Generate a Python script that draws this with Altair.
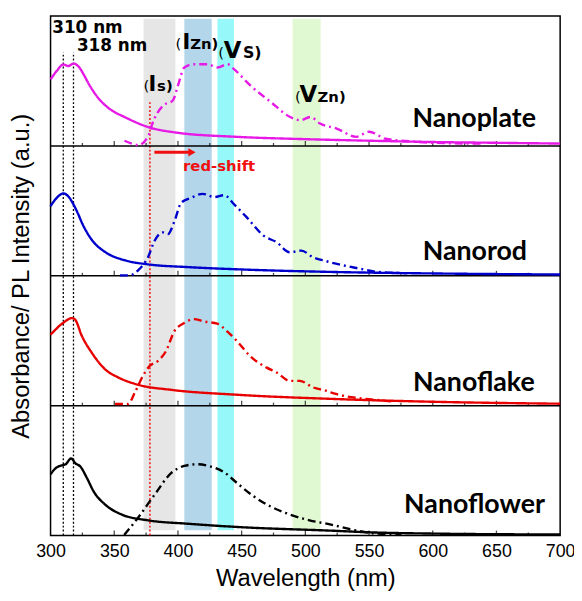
import altair as alt
import pandas as pd

# ---------------- data ----------------
panels = ["Nanoflower", "Nanoflake", "Nanorod", "Nanoplate"]  # bottom -> top
panel_colors = ["#000000", "#E80000", "#0000CD", "#E619E6"]

plate_abs_wl = [300, 305, 310, 314, 318, 322, 326, 330, 338, 348, 358, 376, 400, 446, 500, 550, 600, 650, 700]
plate_abs_v = [0.512, 0.579, 0.627, 0.615, 0.634, 0.611, 0.55, 0.477, 0.362, 0.274, 0.223, 0.147, 0.101, 0.07, 0.052, 0.04, 0.03, 0.024, 0.018]
plate_pl_wl = [358, 364, 369, 377, 379.5, 388.5, 396, 400, 405, 412, 423, 431, 439, 444, 457, 473, 488, 496, 504, 511.5, 524.5, 540, 550, 563, 587, 610, 640]
plate_pl_v = [0.04, 0.017, 0.006, 0.083, 0.16, 0.312, 0.35, 0.464, 0.604, 0.629, 0.629, 0.604, 0.629, 0.591, 0.464, 0.337, 0.223, 0.198, 0.223, 0.172, 0.134, 0.07, 0.109, 0.055, 0.032, 0.021, 0.018]

rod_abs_wl = [300, 304.5, 310, 314.4, 317.3, 321.2, 325.1, 332.9, 343.2, 358.8, 376.5, 407.6, 446.4, 524, 600, 700]
rod_abs_v = [0.537, 0.596, 0.634, 0.606, 0.562, 0.486, 0.398, 0.27, 0.181, 0.118, 0.088, 0.067, 0.05, 0.029, 0.018, 0.01]
rod_pl_wl = [354.5, 362, 368.7, 376.5, 381.7, 388.2, 392.1, 397.3, 402.5, 410.3, 419.4, 428.5, 436.3, 444.1, 454.2, 467.2, 477.5, 487.8, 496.9, 506, 516.3, 524, 540, 557, 580]
rod_pl_v = [0.003, 0.003, 0.042, 0.143, 0.27, 0.334, 0.321, 0.421, 0.562, 0.6, 0.631, 0.606, 0.621, 0.55, 0.448, 0.309, 0.258, 0.181, 0.194, 0.143, 0.113, 0.093, 0.06, 0.03, 0.02]

flake_abs_wl = [300, 309.7, 316.9, 319, 324.7, 332.4, 342.8, 353.2, 368.7, 394.6, 446.4, 524, 600, 700]
flake_abs_v = [0.546, 0.636, 0.674, 0.666, 0.534, 0.407, 0.28, 0.217, 0.161, 0.122, 0.084, 0.051, 0.03, 0.015]
flake_pl_wl = [350.6, 360.9, 366.1, 372.5, 377.7, 384.1, 390.6, 397.1, 404.9, 412.6, 420.4, 430.8, 438.6, 446.4, 456.7, 469.7, 477.5, 487.8, 495.6, 506, 516.3, 524, 540, 555, 570]
flake_pl_v = [0.013, 0.013, 0.1, 0.229, 0.305, 0.343, 0.42, 0.572, 0.636, 0.666, 0.648, 0.631, 0.572, 0.496, 0.381, 0.293, 0.255, 0.191, 0.191, 0.141, 0.115, 0.09, 0.06, 0.045, 0.03]

flower_abs_wl = [300, 304, 309.7, 311.8, 316.2, 319.5, 323.4, 328.6, 333.8, 342.9, 355.8, 376.5, 407.6, 446.4, 524, 550, 600, 700]
flower_abs_v = [0.472, 0.518, 0.543, 0.549, 0.594, 0.556, 0.531, 0.442, 0.34, 0.238, 0.162, 0.117, 0.091, 0.066, 0.036, 0.025, 0.015, 0.008]
flower_pl_wl = [357.9, 368.7, 381.7, 394.6, 405, 415.3, 425.7, 436.1, 446.4, 459.4, 472.3, 487.8, 503.3, 519.3, 537, 555.5, 575]
flower_pl_v = [0.005, 0.137, 0.315, 0.48, 0.536, 0.549, 0.531, 0.488, 0.404, 0.302, 0.226, 0.162, 0.117, 0.086, 0.045, 0.015, 0.01]

series = {
    "Nanoplate": (plate_abs_wl, plate_abs_v, plate_pl_wl, plate_pl_v),
    "Nanorod": (rod_abs_wl, rod_abs_v, rod_pl_wl, rod_pl_v),
    "Nanoflake": (flake_abs_wl, flake_abs_v, flake_pl_wl, flake_pl_v),
    "Nanoflower": (flower_abs_wl, flower_abs_v, flower_pl_wl, flower_pl_v),
}

# shaded defect-level bands (nm)
band_start = [373, 405, 431, 490]
band_end = [398, 426.5, 444, 512]
band_color = ["#E6E6E6", "#B4D6EA", "#96F8F8", "#E0F9D2"]

# x ticks
major_ticks = [300, 350, 400, 450, 500, 550, 600, 650, 700]
minor_ticks = [325, 375, 425, 475, 525, 575, 625, 675]
panel_bounds = [0, 1, 2, 3]

# reference wavelength markers
marker_wl = [310, 318]
redline_wl = [378]

# annotations
ann_text = ["310 nm", "318 nm", "I", "s)", "I", "Zn)", "V", "S)", "V", "Zn)", "red-shift"]
ann_x = [301.3, 320.7, 376.9, 383.6, 403.5, 409.6, 436.0, 451.0, 495.4, 509.6, 404]
ann_y = [3.87, 3.731, 3.426, 3.426, 3.743, 3.743, 3.68, 3.68, 3.337, 3.337, 2.804]
ann_size = [17, 17, 21, 15, 21, 15, 23, 16, 23, 15, 15]
ann_color = ["black"] * 10 + ["#F01010"]

paren_x = [372.9, 398.0, 431.6, 491.8]
paren_y = [3.426, 3.743, 3.68, 3.337]

label_x = [681, 674, 680, 688]
label_y = [3.147, 2.118, 1.115, 0.175]
label_text = ["Nanoplate", "Nanorod", "Nanoflake", "Nanoflower"]

arrow_x = [381.5]
arrow_x2 = [411]
arrow_y = [2.951]

# ---------------- build tables ----------------
rows = []
for name, (aw, av, pw, pv) in series.items():
    off = panels.index(name)
    for i, (w, v) in enumerate(zip(aw, av)):
        rows.append({"panel": name, "kind": "abs", "wl": w, "y": off + v, "o": i})
    for i, (w, v) in enumerate(zip(pw, pv)):
        rows.append({"panel": name, "kind": "pl", "wl": w, "y": off + v, "o": i})
curves = pd.DataFrame(rows)

xs = alt.Scale(domain=[300, 700], nice=False)
ys = alt.Scale(domain=[0, 4], nice=False, zero=False)

xaxis = alt.Axis(values=major_ticks, ticks=False, domain=False, grid=False,
                 labelFont="Liberation Sans", labelFontSize=18, labelColor="black",
                 labelPadding=7, title="Wavelength (nm)", titleFont="Liberation Sans",
                 titleFontSize=24, titleFontWeight="normal", titleColor="black",
                 titlePadding=6, labelFlush=False)
yaxis = alt.Axis(labels=False, ticks=False, domain=False, grid=False,
                 title="Absorbance/ PL Intensity (a.u.)", titleFont="Liberation Sans",
                 titleFontSize=24, titleFontWeight="normal", titleColor="black",
                 titlePadding=17)

bands = alt.Chart(pd.DataFrame({"s": band_start, "e": band_end, "c": band_color})).mark_rect().encode(
    x=alt.X("s:Q", scale=xs, axis=xaxis),
    x2="e:Q",
    y=alt.datum(0.04, type="quantitative", scale=ys, axis=yaxis),
    y2=alt.datum(3.98),
    color=alt.Color("c:N", scale=None),
)

black_dots = alt.Chart(pd.DataFrame({"w": marker_wl})).mark_rule(
    color="black", strokeDash=[2, 2], strokeWidth=1.3).encode(
    x=alt.X("w:Q", scale=xs), y=alt.datum(0), y2=alt.datum(3.72))

red_dots = alt.Chart(pd.DataFrame({"w": redline_wl})).mark_rule(
    color="#F01010", strokeDash=[2, 2], strokeWidth=1.5).encode(
    x=alt.X("w:Q", scale=xs), y=alt.datum(0), y2=alt.datum(3.34))

bounds = alt.Chart(pd.DataFrame({"b": panel_bounds[1:]})).mark_rule(
    color="black", strokeWidth=1.5).encode(y=alt.Y("b:Q", scale=ys))

tick_rows = [{"x": t, "b": b, "k": "major"} for b in panel_bounds for t in major_ticks[1:-1]]
tick_rows += [{"x": t, "b": b, "k": "minor"} for b in panel_bounds for t in minor_ticks]
ticks_df = pd.DataFrame(tick_rows)
major_marks = alt.Chart(ticks_df).transform_filter(alt.datum.k == "major").mark_tick(
    orient="vertical", size=5, thickness=1.3, color="black", yOffset=-2.5).encode(
    x=alt.X("x:Q", scale=xs), y=alt.Y("b:Q", scale=ys))
minor_marks = alt.Chart(ticks_df).transform_filter(alt.datum.k == "minor").mark_tick(
    orient="vertical", size=3, thickness=1.3, color="black", yOffset=-1.5).encode(
    x=alt.X("x:Q", scale=xs), y=alt.Y("b:Q", scale=ys))

lines = alt.Chart(curves).mark_line(strokeWidth=2.4, interpolate="monotone").encode(
    x=alt.X("wl:Q", scale=xs),
    y=alt.Y("y:Q", scale=ys),
    color=alt.Color("panel:N", scale=alt.Scale(domain=panels, range=panel_colors), legend=None),
    strokeDash=alt.StrokeDash("kind:N", scale=alt.Scale(domain=["abs", "pl"], range=[[1, 0], [8, 4, 2, 4]]), legend=None),
    detail="kind:N",
    order="o:Q",
)

ann = alt.Chart(pd.DataFrame({"t": ann_text, "x": ann_x, "y": ann_y, "s": ann_size, "c": ann_color})).mark_text(
    align="left", baseline="alphabetic", font="DejaVu Sans", fontWeight="bold").encode(
    x=alt.X("x:Q", scale=xs), y=alt.Y("y:Q", scale=ys), text="t:N",
    size=alt.Size("s:Q", scale=None), color=alt.Color("c:N", scale=None))

parens = alt.Chart(pd.DataFrame({"x": paren_x, "y": paren_y})).mark_text(
    align="left", baseline="alphabetic", font="DejaVu Sans", fontSize=15, color="black", text="(").encode(
    x=alt.X("x:Q", scale=xs), y=alt.Y("y:Q", scale=ys))

labels = alt.Chart(pd.DataFrame({"t": label_text, "x": label_x, "y": label_y})).mark_text(
    align="right", baseline="alphabetic", font="Lato", fontWeight="bold", fontSize=27, color="black").encode(
    x=alt.X("x:Q", scale=xs), y=alt.Y("y:Q", scale=ys), text="t:N")

arrow_df = pd.DataFrame({"x": arrow_x, "x2": arrow_x2, "y": arrow_y})
arrow_line = alt.Chart(arrow_df).mark_rule(color="#F01010", strokeWidth=3).encode(
    x=alt.X("x:Q", scale=xs), x2="x2:Q", y=alt.Y("y:Q", scale=ys))
arrow_head = alt.Chart(arrow_df).mark_point(shape="triangle-right", filled=True, size=70,
                                            color="#F01010", opacity=1).encode(
    x=alt.X("x2:Q", scale=xs), y=alt.Y("y:Q", scale=ys))

chart = alt.layer(
    bands, black_dots, red_dots, bounds, major_marks, minor_marks, lines,
    ann, parens, labels, arrow_line, arrow_head
).properties(
    width=515, height=525,
    autosize=alt.AutoSizeParams(type="none"),
    padding={"left": 43, "top": 5, "right": 14, "bottom": 60},
).configure_view(stroke="black", strokeWidth=1.5)

chart.save("out.html", embed_options={"renderer": "svg", "actions": False})
